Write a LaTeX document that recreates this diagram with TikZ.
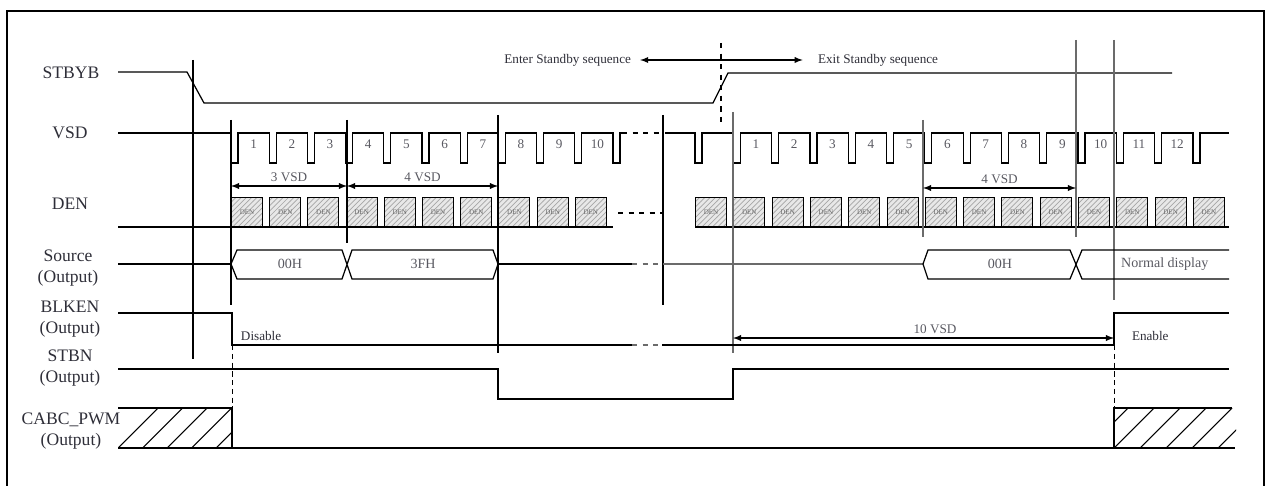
\documentclass[tikz,border=0pt]{standalone}
\usepackage{fontspec}
\setmainfont{Liberation Serif}
\usetikzlibrary{patterns}

\tikzset{	PixGrid/.style={x={(0.02cm,0cm)},y={(0cm,-0.02cm)}},
		sig/.style={black,line width=0.7pt},
		markline/.style={markGray,line width=0.8pt},
		sigLabel/.style={labelGray,align=center,font=\fontsize{10}{12}\selectfont},
		smallText/.style={labelGray,inner sep=1.5pt,font=\fontsize{7.5}{8}\selectfont},
		numText/.style={numGray,font=\fontsize{7.5}{8}\selectfont},
		denBox/.style={draw,line width=0.6pt,anchor=north west,inner sep=0pt,
				minimum width=0.62cm,minimum height=0.6cm,
				preaction={fill=gray!18},pattern=north east lines,pattern color=gray!70,
				font=\fontsize{4}{4}\selectfont,text=gray!80!black},
		hatchline/.style={black,line width=0.6pt}
		}
\definecolor{markGray}{rgb}{0.42,0.42,0.42}
\definecolor{labelGray}{rgb}{0.18,0.18,0.22}
\definecolor{numGray}{rgb}{0.35,0.35,0.38}

\begin{document}
\begin{tikzpicture}[>=latex, PixGrid]
	\useasboundingbox (0,0) rectangle (1270,486);

        % rahmen
        \draw[line width=0.8pt] (7,495)--(7,11)--(1264,11)--(1264,495);

        % signalnamen
	\node[sigLabel] (lStbyb) at (71,73) {STBYB};
	\node[sigLabel] (lVsd) at (70,133) {VSD};
	\node[sigLabel] (lDen) at (70,204) {DEN};
	\node[sigLabel] (lSource) at (68,268) {Source\\(Output)};
	\node[sigLabel] (lBlken) at (70,319) {BLKEN\\(Output)};
	\node[sigLabel] (lStbn) at (70,368) {STBN\\(Output)};
	\node[sigLabel] (lCabc) at (71,431) {CABC\_PWM\\(Output)};

        % stbyb und standby pfeil
        \draw[sig] (118,72)--(187,72)--(204,103)--(713,103)--(728,73)--(1172,73);
        \node[smallText,anchor=east] (enter) at (634,60) {Enter Standby sequence};
        \node[smallText,anchor=west] (exit) at (815,60) {Exit Standby sequence};
        \draw[<->,line width=0.6pt] ([xshift=3.5pt]enter.east)--([xshift=-7pt]exit.west);
        \draw[sig,dashed] (721,43)--(721,123);

        % vsd
        \draw[sig] (118,133) foreach \k in {0,...,10} {--({231+38.2*\k},133)--++(0,30)--++(7,0)--++(0,-30)}--(622,133);
        \draw[sig,dashed] (622,133)--(662,133);
        \draw[sig] (665,133) foreach \k in {0,...,13} {--({695+38.3*\k},133)--++(0,30)--++(7,0)--++(0,-30)}--(1229,133);
        \foreach \k in {1,...,10}
		\node[numText] (va\k) at ({231+38.2*(\k-1)+22.6},144) {\k};
        \foreach \k in {1,...,12}
		\node[numText] (vb\k) at ({695+38.3*\k+22.6},144) {\k};

        % den
        \foreach \k in {0,...,9}
		\node[denBox] (da\k) at ({231+38.2*\k},197) {DEN};
        \foreach \k in {0,...,13}
		\node[denBox] (db\k) at ({695+38.3*\k},197) {DEN};
        \draw[sig] (118,227)--(613,227);
        \draw[sig,dashed] (618,213)--(662,213);
        \draw[sig] (695,227)--(1229,227);

        % markierungen
        \draw[sig] (193,60)--(193,359);
        \draw[sig] (231,120)--(231,305);
        \draw[sig] (347,120)--(347,243);
        \draw[sig] (498,115)--(498,353);
        \draw[sig] (663,115)--(663,305);
        \draw[markline] (733,112)--(733,353);
        \draw[markline] (923,120)--(923,237);
        \draw[markline] (1076,40)--(1076,237);
        \draw[markline] (1114,40)--(1114,300);
        \draw[sig,densely dashed,line width=0.5pt] (232,345)--(232,408);
        \draw[sig,densely dashed,line width=0.5pt] (1114,345)--(1114,408);

        % vsd abstaende
        \draw[<->,line width=0.6pt] (231,186)--node[numText,above=-1pt] (d3) {3 VSD}(347,186);
        \draw[<->,line width=0.6pt] (347,186)--node[numText,above=-1pt] (d4) {4 VSD}(498,186);
        \draw[<->,line width=0.6pt] (923,188)--node[numText,above=-1pt] (d4b) {4 VSD}(1076,188);
        \draw[<->,line width=0.6pt] (733,338)--node[numText,above=-1pt,pos=0.53] (d10) {10 VSD}(1114,338);

        % source
        \draw[sig] (118,264)--(231,264);
        \draw[sig] (231,264)--(237,250)--(342,250)--(352,279)--(493,279)--(498,264)--(493,250)--(352,250)--(342,279)--(237,279)--cycle;
        \draw[sig] (498,264)--(632,264);
        \draw[markline,dashed] (632,264)--(663,264);
        \draw[markline] (663,264)--(923,264);
        \draw[sig] (923,264)--(928,250)--(1070,250)--(1082,279)--(1229,279);
        \draw[sig] (923,264)--(928,279)--(1070,279)--(1082,250)--(1229,250);
        \node[numText,font=\fontsize{8}{9}\selectfont] (s1) at (290,264) {00H};
        \node[numText,font=\fontsize{8}{9}\selectfont] (s2) at (423,264) {3FH};
        \node[numText,font=\fontsize{8}{9}\selectfont] (s3) at (1000,264) {00H};
        \node[numText,font=\fontsize{8}{9}\selectfont,anchor=west] (s4) at (1115,264) {Normal display};

        % blken
        \draw[sig] (118,313)--(232,313)--(232,345)--(632,345);
        \draw[markline,dashed] (632,345)--(662,345);
        \draw[sig] (662,345)--(1114,345)--(1114,313)--(1229,313);
        \node[smallText,anchor=west] (dis) at (238,336) {Disable};
        \node[smallText,anchor=west] (ena) at (1129,336) {Enable};

        % stbn
        \draw[sig] (118,369)--(498,369)--(498,399)--(733,399)--(733,369)--(1229,369);

        % cabc_pwm
        \draw[sig] (118,408)--(232,408)--(232,448);
        \draw[sig] (1114,448)--(1114,408)--(1232,408);
        \draw[sig] (118,448)--(1235,448);
        \begin{scope}
		\clip (118,408) rectangle (232,448);
		\foreach \h in {118,142.5,...,235} \draw[hatchline] (\h,448)--++(40,-40);
        \end{scope}
        \begin{scope}
		\clip (1114,408) rectangle (1236,448);
		\foreach \h in {1088,1114,...,1220} \draw[hatchline] (\h,448)--++(40,-40);
        \end{scope}
\end{tikzpicture}
\end{document}
